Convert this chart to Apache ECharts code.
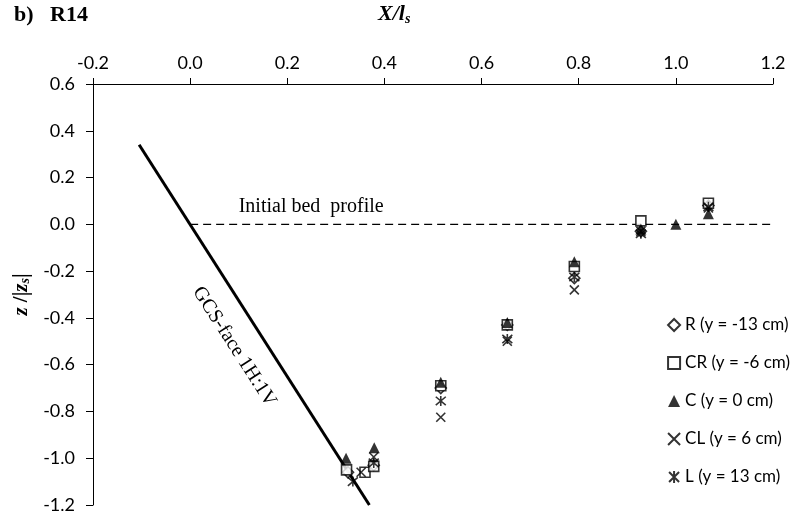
<!DOCTYPE html>
<html>
<head>
<meta charset="utf-8">
<script src="https://cdn.jsdelivr.net/npm/echarts@6/dist/echarts.min.js"></script>
<style>html,body{margin:0;padding:0;background:#fff}#main{width:801px;height:516px}</style>
</head>
<body>
<div id="main"></div>
<script>
// 各测线的冲刷剖面数据 [X/ls, z/|zs|]
var seriesNames = ['R (y = -13 cm)', 'CR (y = -6 cm)', 'C (y = 0 cm)', 'CL (y = 6 cm)', 'L (y = 13 cm)'];
var dataR  = [[0.325, -1.06], [0.378, -1.03], [0.516, -0.70], [0.653, -0.43], [0.791, -0.23], [0.928, -0.03], [1.067, 0.08]];
var dataCR = [[0.322, -1.05], [0.360, -1.06], [0.378, -1.035], [0.516, -0.69], [0.653, -0.43], [0.791, -0.18], [0.928, 0.015], [1.067, 0.09]];
var dataC  = [[0.321, -1.00], [0.379, -0.955], [0.516, -0.675], [0.653, -0.42], [0.791, -0.16], [0.928, -0.02], [1.000, 0.00], [1.067, 0.045]];
var dataCL = [[0.352, -1.06], [0.378, -0.995], [0.516, -0.825], [0.653, -0.50], [0.791, -0.28], [0.928, -0.03], [1.067, 0.07]];
var dataL  = [[0.335, -1.10], [0.378, -1.02], [0.516, -0.755], [0.653, -0.49], [0.791, -0.225], [0.928, -0.04], [1.067, 0.075]];
var bedProfile = [[0, 0], [1.2, 0]];
var gcsFace = [[-0.105, 0.34], [0.369, -1.2]];

var myChart = echarts.init(document.getElementById('main'));

var crossPath = 'path://M0,0 L10,10 M10,0 L0,10';
var starPath = 'path://M0,0 L10,10 M10,0 L0,10 M5,-1 L5,11';

function pointSeries(name, data, symbol, size, filled) {
    return {
        name: name,
        type: 'scatter',
        data: data,
        symbol: symbol,
        symbolSize: size,
        itemStyle: {
            color: filled ? '#000' : '#fff',
            borderColor: '#000',
            borderWidth: filled ? 0 : 1.6
        },
        emphasis: { disabled: true },
        z: 5
    };
}

var option = {
    animation: false,
    backgroundColor: '#fff',
    grid: { left: 93, right: 28, top: 84, bottom: 11 },
    xAxis: {
        type: 'value',
        position: 'top',
        min: -0.2, max: 1.2, interval: 0.2,
        axisLine: { onZero: false, lineStyle: { color: '#000', width: 1 } },
        axisTick: { show: true, length: 6, lineStyle: { color: '#000' } },
        splitLine: { show: false },
        axisLabel: {
            margin: 12, color: '#000', fontFamily: 'Lato', fontSize: 18,
            formatter: function (v) { return v.toFixed(1); }
        }
    },
    yAxis: {
        type: 'value',
        min: -1.2, max: 0.6, interval: 0.2,
        axisLine: { show: true, onZero: false, lineStyle: { color: '#000', width: 1 } },
        axisTick: { show: true, length: 7, lineStyle: { color: '#000' } },
        splitLine: { show: false },
        axisLabel: {
            margin: 18, color: '#000', fontFamily: 'Lato', fontSize: 18,
            formatter: function (v) { return v.toFixed(1); }
        },
        name: '{i|z} /|{i|z}{sub|s}|',
        nameLocation: 'middle',
        nameRotate: 90,
        nameGap: 53,
        nameTextStyle: {
            rich: {
                i: { fontFamily: 'Liberation Serif', fontWeight: 'bold', fontStyle: 'italic', fontSize: 21, color: '#000' },
                sub: { fontFamily: 'Liberation Serif', fontWeight: 'bold', fontStyle: 'italic', fontSize: 14, color: '#000', verticalAlign: 'bottom', padding: [8, 0, 0, 0] }
            },
            fontFamily: 'Liberation Serif', fontWeight: 'bold', fontSize: 21, color: '#000'
        }
    },
    legend: {
        data: seriesNames,
        orient: 'vertical',
        right: 6,
        top: 310,
        itemGap: 18,
        itemWidth: 12,
        itemHeight: 12,
        textStyle: { fontFamily: 'Lato', fontSize: 17, color: '#000', lineHeight: 20 }
    },
    series: [
        {
            name: 'bed', type: 'line', data: bedProfile, symbol: 'none', silent: true,
            lineStyle: { color: '#000', width: 1.3, type: [8, 5] }, z: 2
        },
        {
            name: 'gcs', type: 'line', data: gcsFace, symbol: 'none', silent: true,
            lineStyle: { color: '#000', width: 3 }, z: 3
        },
        pointSeries(seriesNames[0], dataR, 'diamond', 11, false),
        pointSeries(seriesNames[1], dataCR, 'rect', 10, false),
        pointSeries(seriesNames[2], dataC, 'triangle', 11, true),
        pointSeries(seriesNames[3], dataCL, crossPath, 9, false),
        pointSeries(seriesNames[4], dataL, starPath, 10, false)
    ]
};

myChart.setOption(option);

// 注释文字按数据坐标放置
var bedText = myChart.convertToPixel({ xAxisIndex: 0, yAxisIndex: 0 }, [0.10, 0.077]);
var gcsText = myChart.convertToPixel({ xAxisIndex: 0, yAxisIndex: 0 }, [0.091, -0.523]);

myChart.setOption({
    graphic: [
        {
            type: 'text', left: 14, top: 4,
            style: { text: 'b)   R14', fontFamily: 'Liberation Serif', fontWeight: 'bold', fontSize: 22, fill: '#000' }
        },
        {
            type: 'text', x: 378, y: 2,
            style: {
                text: '{i|X/l}{sub|s}',
                rich: {
                    i: { fontFamily: 'Liberation Serif', fontWeight: 'bold', fontStyle: 'italic', fontSize: 22, fill: '#000' },
                    sub: { fontFamily: 'Liberation Serif', fontWeight: 'bold', fontStyle: 'italic', fontSize: 14, fill: '#000', padding: [10, 0, 0, 0] }
                }
            }
        },
        {
            type: 'text', x: bedText[0], y: bedText[1],
            style: { text: 'Initial bed  profile', fontFamily: 'Liberation Serif', fontSize: 20, fill: '#000', textVerticalAlign: 'middle' }
        },
        {
            type: 'text', x: gcsText[0], y: gcsText[1], rotation: -57.3 * Math.PI / 180,
            style: { text: 'GCS-face 1H:1V', fontFamily: 'Liberation Serif', fontSize: 20, fill: '#000', textAlign: 'center', textVerticalAlign: 'middle' }
        }
    ]
});
</script>
</body>
</html>
